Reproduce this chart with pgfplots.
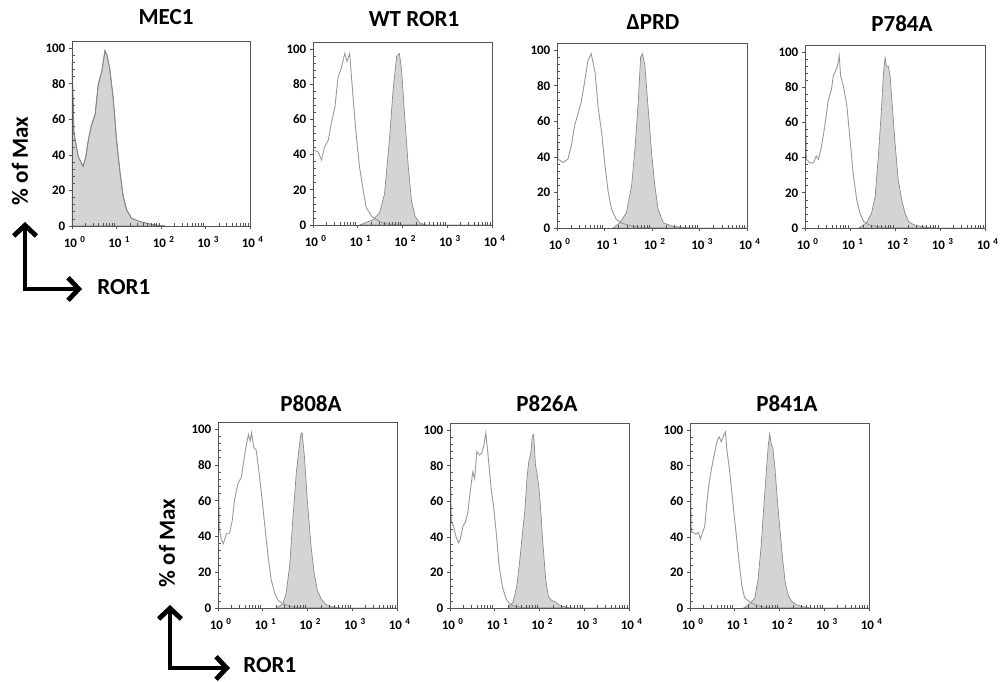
\documentclass[border=0pt]{standalone}
\usepackage{fontspec}
\setmainfont{Carlito}
\usepackage{pgfplots}
\pgfplotsset{compat=1.18}
\usetikzlibrary{arrows.meta}

\definecolor{frame}{RGB}{85,85,85}
\definecolor{fillg}{RGB}{212,212,212}
\definecolor{filledge}{RGB}{135,135,135}
\definecolor{ctrl}{RGB}{155,155,155}

\pgfplotsset{flow/.style={
  scale only axis, anchor=south west,
  xmin=0, xmax=4, ymin=0, ymax=104,
  xtick={0,1,2,3,4},
  xticklabels={10\hspace{2.5pt}\textsuperscript{0},10\hspace{2.5pt}\textsuperscript{1},10\hspace{2.5pt}\textsuperscript{2},10\hspace{2.5pt}\textsuperscript{3},10\hspace{2.5pt}\textsuperscript{4}},
  minor xtick={0.301,0.477,0.602,0.699,0.778,0.845,0.903,0.954,
               1.301,1.477,1.602,1.699,1.778,1.845,1.903,1.954,
               2.301,2.477,2.602,2.699,2.778,2.845,2.903,2.954,
               3.301,3.477,3.602,3.699,3.778,3.845,3.903,3.954},
  ytick={0,20,40,60,80,100},
  minor y tick num=4,
  xtick pos=lower, ytick pos=left,
  tick align=inside,
  major tick length=2.5pt,
  minor tick length=2pt,
  major x tick style={yshift=-2.5pt},
  major y tick style={xshift=-2.5pt},
  axis line style={frame, line width=0.6pt},
  tick style={frame, line width=0.5pt},
  tick label style={font=\fontsize{9.75}{11}\selectfont\bfseries},
  xticklabel style={yshift=-4.5pt, xshift=2pt},
  yticklabel style={xshift=-1.5pt},
  /pgf/number format/assume math mode=true,
  axis on top,
  clip=true,
},
fillh/.style={fill=fillg, draw=filledge, line width=0.5pt},
ctrlh/.style={draw=ctrl, line width=0.7pt, no marks}
}

\newcommand{\ttl}{\fontsize{17.25}{20}\selectfont\bfseries}

\begin{document}
\begin{tikzpicture}[x=0.75pt,y=0.75pt]
\path[use as bounding box] (0,0) rectangle (1004,682);

% ---------- MEC1 ----------
\begin{axis}[flow, at={(54pt,342pt)}, width=133.5pt, height=138.75pt]
\addplot[fillh] coordinates {(0,92) (0.045,52) (0.14,39) (0.25,33.5) (0.31,39) (0.37,48.6) (0.44,57) (0.52,62.7) (0.59,79.7) (0.67,87) (0.74,98.5) (0.79,95.7) (0.85,88) (0.93,71) (1.00,48.6) (1.08,30) (1.15,16.6) (1.23,9) (1.34,4.3) (1.53,2.4) (1.75,1.1) (1.98,0.2) (2.1,0)} \closedcycle;
\addplot[draw=filledge, line width=0.7pt, no marks] coordinates {(0,92) (0.045,52) (0.14,39) (0.25,33.5) (0.31,39) (0.37,48.6) (0.44,57) (0.52,62.7) (0.59,79.7) (0.67,87) (0.74,98.5) (0.79,95.7) (0.85,88) (0.93,71) (1.00,48.6) (1.08,30) (1.15,16.6) (1.23,9) (1.34,4.3) (1.53,2.4) (1.75,1.1) (1.98,0.2) (2.1,0)};
\end{axis}

% ---------- WT ROR1 ----------
\begin{axis}[flow, at={(234.75pt,342.75pt)}, width=134.25pt, height=137.25pt]
\addplot[fillh] coordinates {(1.04,0) (1.34,3) (1.49,7) (1.60,18) (1.72,52) (1.79,77) (1.87,96) (1.93,97.5) (1.98,88) (2.05,61.5) (2.13,33) (2.20,14) (2.28,5) (2.39,1) (2.54,0)} \closedcycle;
\addplot[ctrlh] coordinates {(0,42.6) (0.11,41.7) (0.19,37) (0.26,44.5) (0.34,48) (0.41,58) (0.49,67) (0.56,84) (0.63,89) (0.71,97.5) (0.76,93) (0.82,97.5) (0.90,71) (0.97,50) (1.04,33) (1.12,20) (1.19,10) (1.31,5) (1.42,3) (1.57,1) (1.72,0.4) (1.9,0) (4,0)};
\end{axis}

% ---------- Delta PRD ----------
\begin{axis}[flow, at={(417.75pt,340.5pt)}, width=142.5pt, height=138.75pt]
\addplot[fillh] coordinates {(1.18,0) (1.32,2.8) (1.46,8.5) (1.57,23.6) (1.64,44) (1.71,70.8) (1.76,96) (1.80,98) (1.85,91.5) (1.92,67) (1.99,42.5) (2.06,23.6) (2.13,10.4) (2.24,2.8) (2.45,0.9) (2.73,0.2) (2.9,0)} \closedcycle;
\addplot[ctrlh] coordinates {(0,92) (0.02,38.7) (0.13,36.8) (0.23,38.7) (0.30,46) (0.37,57.5) (0.44,64) (0.51,70.8) (0.58,82) (0.65,94) (0.72,98) (0.80,87.7) (0.87,67) (0.94,53.8) (1.01,35) (1.08,19.8) (1.15,10.4) (1.25,4.7) (1.36,2.8) (1.46,1.9) (1.61,1) (1.82,0.2) (2,0) (4,0)};
\end{axis}

% ---------- P784A ----------
\begin{axis}[flow, at={(603.75pt,340.5pt)}, width=135pt, height=137.25pt]
\addplot[fillh] coordinates {(1.19,0) (1.37,2.9) (1.48,8.6) (1.56,18) (1.63,41) (1.70,67.6) (1.74,86.7) (1.78,97) (1.81,92) (1.85,92) (1.89,86.7) (1.93,73) (2.00,48.6) (2.07,27.6) (2.15,16) (2.22,8.6) (2.30,3.8) (2.41,1.9) (2.56,1) (2.78,0.2) (2.9,0)} \closedcycle;
\addplot[ctrlh] coordinates {(0,86.7) (0.03,39) (0.11,37) (0.19,37) (0.25,41) (0.30,39) (0.37,46.7) (0.44,58) (0.52,73) (0.59,79) (0.63,86.7) (0.67,88.6) (0.72,92) (0.76,98) (0.79,86.7) (0.85,81) (0.93,69.5) (1.00,50.5) (1.07,31) (1.15,16) (1.22,8.6) (1.30,3.8) (1.41,1.9) (1.56,1) (1.78,0.2) (1.9,0) (4,0)};
\end{axis}

% ---------- P808A ----------
\begin{axis}[flow, at={(163.5pt,55.5pt)}, width=134.25pt, height=139.5pt]
\addplot[fillh] coordinates {(1.30,0) (1.45,2.4) (1.52,8) (1.60,23) (1.67,49) (1.75,75.6) (1.80,86.9) (1.85,97) (1.88,98) (1.93,85) (2.00,58.7) (2.08,34.3) (2.15,19.3) (2.22,10) (2.30,5.3) (2.41,2) (2.56,0.6) (2.75,0)} \closedcycle;
\addplot[ctrlh] coordinates {(0,90.6) (0.03,43.7) (0.08,38) (0.12,36) (0.19,41.8) (0.26,41.8) (0.32,49.3) (0.37,60.6) (0.45,70) (0.52,72.8) (0.58,83) (0.63,90.6) (0.68,97) (0.72,93.4) (0.75,98) (0.80,89.7) (0.85,88.7) (0.90,79.4) (0.97,64.4) (1.04,47.5) (1.12,28.7) (1.19,15.6) (1.27,8) (1.34,4.3) (1.45,2.4) (1.60,0.9) (1.79,0.2) (1.9,0) (4,0)};
\end{axis}

% ---------- P826A ----------
\begin{axis}[flow, at={(337.5pt,55.5pt)}, width=134.25pt, height=138.75pt]
\addplot[fillh] coordinates {(1.30,0) (1.41,3.4) (1.49,12) (1.56,27) (1.62,42.4) (1.67,53.8) (1.72,72.8) (1.76,82.3) (1.80,86) (1.84,96.6) (1.87,97.5) (1.91,80.4) (1.95,74.7) (1.99,67) (2.03,53.8) (2.08,34.8) (2.14,15.8) (2.20,6.3) (2.27,4.4) (2.35,3.4) (2.45,1.5) (2.60,0.4) (2.75,0)} \closedcycle;
\addplot[ctrlh] coordinates {(0,91.8) (0.03,48) (0.08,46) (0.13,40.5) (0.19,36.7) (0.23,38.6) (0.29,46.2) (0.34,48) (0.40,53.8) (0.45,65) (0.51,76.6) (0.55,72.8) (0.60,88) (0.66,86) (0.71,87) (0.76,91.8) (0.80,98.5) (0.85,86) (0.92,67) (0.98,55.7) (1.04,40.5) (1.10,23.4) (1.17,12) (1.25,5.3) (1.34,2) (1.45,1) (1.64,0.2) (1.8,0) (4,0)};
\end{axis}

% ---------- P841A ----------
\begin{axis}[flow, at={(517.5pt,55.5pt)}, width=134.25pt, height=138.75pt]
\addplot[fillh] coordinates {(1.20,0) (1.34,2.5) (1.45,5.7) (1.52,16) (1.59,35) (1.65,57.5) (1.71,78.3) (1.75,91.5) (1.78,98) (1.82,91.5) (1.85,90.6) (1.90,78.3) (1.95,61.3) (2.01,44.3) (2.07,27.4) (2.13,14) (2.19,7.5) (2.27,3.8) (2.37,1.9) (2.52,0.8) (2.70,0)} \closedcycle;
\addplot[ctrlh] coordinates {(0,91.5) (0.03,42.5) (0.08,42.5) (0.13,41.5) (0.19,42.5) (0.23,38.7) (0.28,42.5) (0.33,46) (0.37,57.5) (0.42,69) (0.48,78.3) (0.54,86) (0.60,93.4) (0.65,96.2) (0.70,93.4) (0.74,96.2) (0.79,99) (0.83,87.7) (0.88,78.3) (0.95,61.3) (1.02,44.3) (1.09,27.4) (1.16,12.3) (1.22,5.7) (1.29,4.3) (1.37,2.8) (1.48,1.5) (1.64,0.6) (1.80,0) (4,0)};
\end{axis}

% ---------- titles ----------
\node[font=\ttl, anchor=base] at (166,657) {MEC1};
\node[font=\ttl, anchor=base] at (414,655) {WT ROR1};
\node[font=\ttl, anchor=base] at (653,652) {ΔPRD};
\node[font=\ttl, anchor=base] at (902,650) {P784A};
\node[font=\ttl, anchor=base] at (311,270) {P808A};
\node[font=\ttl, anchor=base] at (547,270) {P826A};
\node[font=\ttl, anchor=base] at (787,270) {P841A};

% ---------- y labels ----------
\node[font=\ttl, rotate=90] at (20,521) {\% of Max};
\node[font=\ttl, rotate=90] at (167,139) {\% of Max};

% ---------- arrows ----------
\draw[line width=3.6pt, line join=miter,
      {Straight Barb[length=8pt,width=17pt]}-{Straight Barb[length=8pt,width=17pt]}]
      (25,460) -- (25,393) -- (82,393);
\node[font=\ttl, anchor=base west, inner sep=0pt] at (97,387) {ROR1};
\draw[line width=3.6pt, line join=miter,
      {Straight Barb[length=8pt,width=17pt]}-{Straight Barb[length=8pt,width=17pt]}]
      (170,77) -- (170,14) -- (230,14);
\node[font=\ttl, anchor=base west, inner sep=0pt] at (243,9) {ROR1};
\end{tikzpicture}
\end{document}
